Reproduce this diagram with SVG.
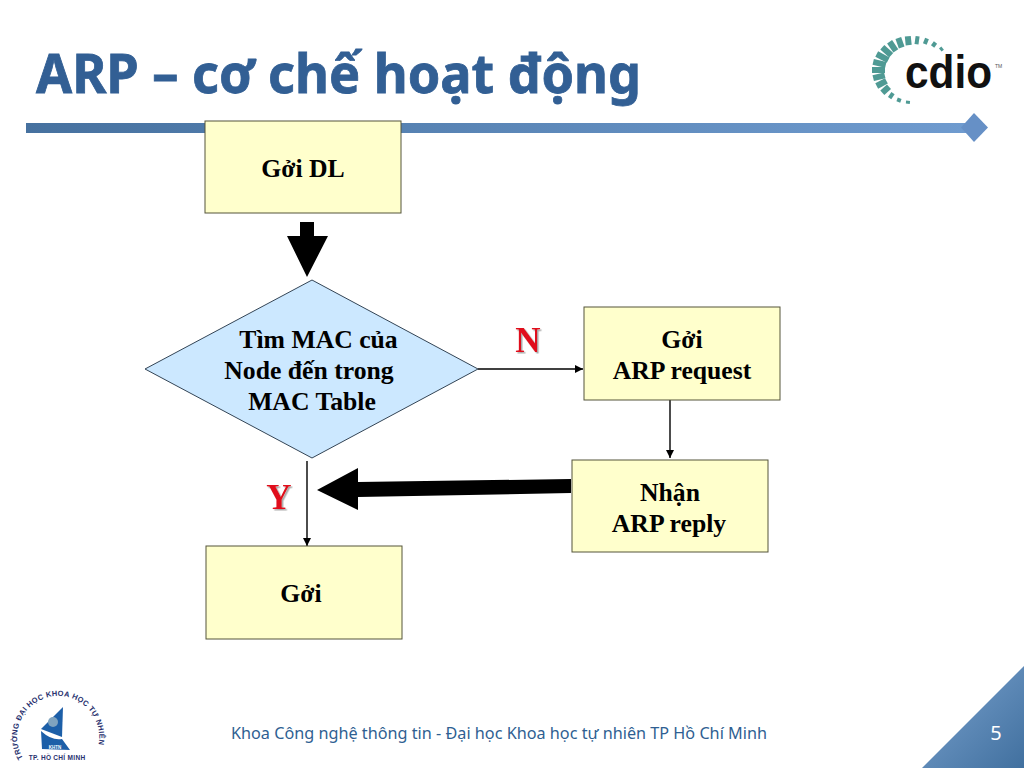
<svg xmlns="http://www.w3.org/2000/svg" width="1024" height="768" viewBox="0 0 1024 768">
<style>
.box{fill:#ffffcc;stroke:#55553a;stroke-width:1}
.dec{fill:#cce8ff;stroke:#334455;stroke-width:1}
.lbl{font-family:"Liberation Serif","Times New Roman",serif;font-weight:bold;font-size:25.700px;fill:#000;text-anchor:middle}
.yn{font-family:"Liberation Serif","Times New Roman",serif;font-weight:bold;font-size:35px;fill:#e0101a;text-anchor:middle;filter:url(#sh)}
.thin{stroke:#000;stroke-width:1.400;fill:none;marker-end:url(#ah)}
.leaf{stroke:#4f9a94;fill:none}
</style>
<defs>
<linearGradient id="bar" x1="0" x2="1" y1="0" y2="0"><stop offset="0" stop-color="#46719f"/><stop offset="1" stop-color="#6f9bcf"/></linearGradient>
<linearGradient id="cor" x1="0" x2="1" y1="0" y2="1"><stop offset="0" stop-color="#7ba3cf"/><stop offset="1" stop-color="#41709f"/></linearGradient>
<marker id="ah" markerUnits="userSpaceOnUse" markerWidth="10" markerHeight="10" refX="8" refY="4" orient="auto"><path d="M0,0L8,4L0,8z" fill="#000"/></marker>
<filter id="sh" x="-20%" y="-20%" width="150%" height="150%"><feDropShadow dx="1.500" dy="1.500" stdDeviation="0.600" flood-color="#aaa"/></filter>
<filter id="soft" x="-5%" y="-5%" width="110%" height="110%"><feGaussianBlur stdDeviation="0.500"/></filter>
<path id="arc" d="M23,758A41,41 0 1 1 95,755"/>
</defs>
<rect width="1024" height="768" fill="#fff"/>
<g id="title"><text x="36" y="93" font-family="'Noto Sans',Tahoma,sans-serif" font-weight="bold" font-size="53" fill="#325f94" stroke="#325f94" stroke-width="0.800" textLength="605" lengthAdjust="spacingAndGlyphs">ARP – cơ chế hoạt động</text></g>
<g id="rule"><rect x="26" y="123" width="940" height="10" fill="url(#bar)"/><path d="M974,113L988,127.500L974,142L961,127.500z" fill="#6690c6"/></g>
<g id="cdio-logo">
<g filter="url(#soft)">
<g class="leaf" stroke-width="4">
<path d="M942.600,48.100L940.300,50"/><path d="M935.500,42.500L932.600,46.500"/><path d="M927,38.500L924.800,44"/><path d="M917.600,36.300L916.500,44.300"/>
<path d="M899.700,98.200L898.300,102"/><path d="M908.100,100.800L907.800,103.800"/><path d="M893,93.200L889.600,98.200"/>
</g>
<g class="leaf" stroke-width="6">
<path d="M907.800,36.200L908.700,45.100"/><path d="M898.300,38L901.700,47.400"/><path d="M889.600,41.800L895.800,50.900"/><path d="M882.300,47.300L891.200,55.300"/><path d="M876.700,54L888.200,60.100"/><path d="M873.200,61.800L885.800,64.800"/><path d="M872,70L885,70"/><path d="M873.200,78.200L884.800,75.300"/><path d="M876.700,86L886.400,80.800"/><path d="M882.300,92.700L889,86.700"/>
</g>
</g>
<text x="905" y="88" font-family="'Liberation Sans',Arial,sans-serif" font-weight="bold" font-size="47" fill="#111" textLength="87" lengthAdjust="spacingAndGlyphs">cdio</text>
<text x="995" y="68" font-family="'Liberation Sans',Arial,sans-serif" font-size="5" fill="#555">TM</text>
</g>
<g id="connectors">
<path d="M300,222H314V236H328L307,277L287,236H300z" fill="#000"/>
<path d="M571,479L571,493L358,497V510L317,490L358,468V482z" fill="#000"/>
<path class="thin" d="M478,369H583"/>
<path class="thin" d="M670,400V458"/>
<path class="thin" d="M307,461V546"/>
</g>
<g id="node-send-data"><rect class="box" x="205" y="121" width="196" height="92"/><text class="lbl" x="303" y="177">Gởi DL</text></g>
<g id="node-lookup"><path class="dec" d="M145,369L312,280L478,369L312,458z"/><text class="lbl" x="318.500" y="348">Tìm MAC của</text><text class="lbl" x="309" y="379">Node đến trong</text><text class="lbl" x="312" y="410">MAC Table</text></g>
<g id="node-arp-request"><rect class="box" x="584" y="307" width="196" height="93"/><text class="lbl" x="682" y="348">Gởi</text><text class="lbl" x="682" y="379">ARP request</text></g>
<g id="node-arp-reply"><rect class="box" x="572" y="460" width="196" height="92"/><text class="lbl" x="670" y="501">Nhận</text><text class="lbl" x="669" y="532">ARP reply</text></g>
<g id="node-send"><rect class="box" x="206" y="546" width="196" height="93"/><text class="lbl" x="301" y="602">Gởi</text></g>
<text class="yn" x="528" y="352">N</text>
<text class="yn" x="279" y="509">Y</text>
<g id="university-logo">
<text font-family="'Liberation Sans',Arial,sans-serif" font-weight="bold" font-size="7.500" fill="#27306e" letter-spacing="0.300"><textPath href="#arc">TRƯỜNG ĐẠI HỌC KHOA HỌC TỰ NHIÊN</textPath></text>
<text x="57" y="760" font-family="'Liberation Sans',Arial,sans-serif" font-weight="bold" font-size="6.500" fill="#27306e" text-anchor="middle" letter-spacing="0.300">TP. HỒ CHÍ MINH</text>
<g filter="url(#soft)">
<path d="M63,707L62,737L41,729z" fill="#1f5fa8"/>
<circle cx="53" cy="722" r="5" fill="#7fa3bf"/>
<path d="M41,731Q52,741 62,739L70,750L42,749z" fill="#1f5fa8"/>
</g>
<text x="55" y="748.500" font-family="'Liberation Sans',Arial,sans-serif" font-weight="bold" font-size="4.500" fill="#fff" text-anchor="middle">KHTN</text>
</g>
<g id="footer"><text x="231" y="739" font-family="'Noto Sans',Tahoma,sans-serif" font-size="16" fill="#2f5f92" textLength="536" lengthAdjust="spacingAndGlyphs">Khoa Công nghệ thông tin - Đại học Khoa học tự nhiên TP Hồ Chí Minh</text></g>
<g id="page-corner"><path d="M922,768L1024,666V768z" fill="url(#cor)"/><text x="996" y="740" font-family="'Noto Sans',Tahoma,sans-serif" font-size="20" fill="#fff" text-anchor="middle">5</text></g>
</svg>
